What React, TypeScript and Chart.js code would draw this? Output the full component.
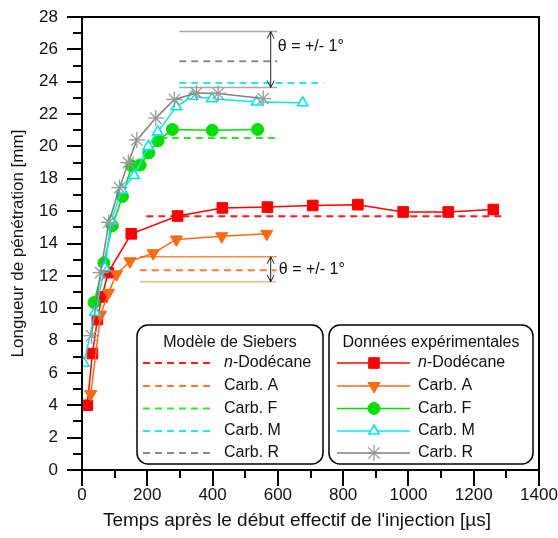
import React, { useEffect, useRef } from 'react';
import { Chart, registerables } from 'chart.js';
import { drawPoint } from 'chart.js/helpers';

Chart.register(...registerables);

const FONT = "'Liberation Sans', Arial, sans-serif";

const seriesNames = ['n-Dodécane', 'Carb. A', 'Carb. F', 'Carb. M', 'Carb. R'];
const seriesColors = ['#ff0000', '#ff6a10', '#00e000', '#00e8f0', '#808080'];
const modelColors = ['#ff1a1a', '#ff7a30', '#33e633', '#22eaf2', '#8c8c8c'];

// Experimental data (time µs, length mm)
const dodecaneT = [16, 32, 47, 61, 80, 151, 293, 430, 568, 707, 845, 984, 1122, 1260];
const dodecaneL = [4.0, 7.2, 9.3, 10.7, 12.2, 14.6, 15.7, 16.2, 16.25, 16.35, 16.4, 15.95, 15.95, 16.1];

const carbAT = [27, 57, 81, 106, 147, 218, 289, 428, 566];
const carbAL = [4.7, 9.6, 10.95, 12.1, 12.9, 13.4, 14.25, 14.45, 14.6];

const carbFT = [37, 67, 93, 124, 152, 178, 205, 233, 277, 399, 538];
const carbFL = [10.35, 12.8, 15.1, 16.9, 18.8, 18.85, 19.6, 20.35, 21.05, 21.0, 21.05];

const carbMT = [6, 40, 70, 89, 122, 160, 203, 232, 289, 338, 398, 535, 676];
const carbML = [6.6, 9.75, 12.5, 15.4, 17.3, 18.2, 20.0, 20.9, 22.45, 23.1, 22.95, 22.75, 22.7];

const carbRT = [29, 57, 82, 115, 142, 168, 226, 283, 351, 417, 555];
const carbRL = [8.3, 12.2, 15.3, 17.45, 19.0, 20.4, 21.75, 22.9, 23.3, 23.27, 22.96];

// Siebers model (steady length, start/end time)
const modelLength = [15.69, 12.35, 20.52, 23.92, 25.26];
const modelStart = [197, 177, 239, 298, 298];
const modelEnd = [1290, 596, 600, 741, 598];

// theta = +/- 1° bands
const bandUpper = [27.1, 13.18];
const bandLower = [23.64, 11.63];
const bandStart = [298, 177];
const bandEnd = [598, 596];
const bandArrowT = [578, 578];
const bandTextT = [600, 603];
const bandTextL = [26.15, 12.4];
const bandLabel = ['θ = +/- 1°', 'θ = +/- 1°'];
const bandUpperColors = ['#a8a8a8', '#ff8a40'];
const bandLowerColors = ['#a8a8a8', '#ffb588'];

const legendTitles = ['Modèle de Siebers', 'Données expérimentales'];
const xTitle = "Temps après le début effectif de l'injection [µs]";
const yTitle = 'Longueur de pénétration [mm]';

const expT = [dodecaneT, carbAT, carbFT, carbMT, carbRT];
const expL = [dodecaneL, carbAL, carbFL, carbML, carbRL];
const pointStyles = ['rect', 'triangle', 'circle', 'triangle', 'star'];
const pointRadii = [7.5, 7, 6, 6, 8];
const pointRotations = [0, 180, 0, 0, 0];
const pointFills = ['#ff0000', '#ff6a10', '#00e000', '#ffffff', '#999999'];
const pointBorders = ['#ff0000', '#ff6a10', '#00e000', '#00e8f0', '#999999'];
const pointBorderW = [1, 1, 1, 1.6, 1.3];
const drawOrder = [4, 3, 2, 1, 0];

function drawLabel(ctx: CanvasRenderingContext2D, text: string, x: number, y: number) {
  ctx.textAlign = 'left';
  ctx.textBaseline = 'middle';
  if (text.startsWith('n-')) {
    ctx.font = `italic 16px ${FONT}`;
    ctx.fillText('n', x, y);
    const w = ctx.measureText('n').width;
    ctx.font = `16px ${FONT}`;
    ctx.fillText(text.slice(1), x + w, y);
  } else {
    ctx.font = `16px ${FONT}`;
    ctx.fillText(text, x, y);
  }
}

const decorPlugin = {
  id: 'decor',
  beforeDraw(chart: any) {
    const ctx = chart.ctx;
    ctx.save();
    ctx.fillStyle = '#ffffff';
    ctx.fillRect(0, 0, chart.width, chart.height);
    ctx.restore();
  },
  afterDatasetsDraw(chart: any) {
    const ctx: CanvasRenderingContext2D = chart.ctx;
    const xs = chart.scales.x;
    const ys = chart.scales.y;
    ctx.save();
    for (let i = 0; i < bandUpper.length; i++) {
      const x = xs.getPixelForValue(bandArrowT[i]);
      const y1 = ys.getPixelForValue(bandUpper[i]);
      const y2 = ys.getPixelForValue(bandLower[i]);
      ctx.strokeStyle = '#222';
      ctx.lineWidth = 1;
      ctx.beginPath();
      ctx.moveTo(x, y1);
      ctx.lineTo(x, y2);
      ctx.moveTo(x - 3.5, y1 + 7);
      ctx.lineTo(x, y1);
      ctx.lineTo(x + 3.5, y1 + 7);
      ctx.moveTo(x - 3.5, y2 - 7);
      ctx.lineTo(x, y2);
      ctx.lineTo(x + 3.5, y2 - 7);
      ctx.stroke();
      ctx.fillStyle = '#111';
      ctx.font = `16px ${FONT}`;
      ctx.textAlign = 'left';
      ctx.textBaseline = 'middle';
      ctx.fillText(bandLabel[i], xs.getPixelForValue(bandTextT[i]), ys.getPixelForValue(bandTextL[i]));
    }
    ctx.restore();
  },
  afterDraw(chart: any) {
    const ctx: CanvasRenderingContext2D = chart.ctx;
    const xs = chart.scales.x;
    const ys = chart.scales.y;
    const { left, right, top, bottom } = chart.chartArea;
    ctx.save();
    ctx.strokeStyle = '#000';
    ctx.lineWidth = 2;
    ctx.beginPath();
    for (let v = 0; v <= 28; v++) {
      const y = Math.round(ys.getPixelForValue(v));
      const len = v % 2 === 0 ? 15 : 9;
      ctx.moveTo(left - len, y);
      ctx.lineTo(left, y);
    }
    for (let v = 0; v <= 1400; v += 100) {
      const x = Math.round(xs.getPixelForValue(v));
      const len = v % 200 === 0 ? 16 : 8;
      ctx.moveTo(x, bottom);
      ctx.lineTo(x, bottom + len);
    }
    ctx.stroke();
    ctx.strokeRect(left, top, right - left, bottom - top);

    // x-axis title
    ctx.fillStyle = '#111';
    ctx.font = `19px ${FONT}`;
    ctx.textAlign = 'center';
    ctx.textBaseline = 'middle';
    ctx.fillText(xTitle, 297, 521);

    // Legends
    const boxes = [
      { x: 137, w: 186, group: 'model' },
      { x: 329, w: 204, group: 'exp' },
    ];
    const boxTop = 325;
    const boxBottom = 464;
    const rowY = [363, 386, 408.5, 431, 453];
    boxes.forEach((b, bi) => {
      ctx.fillStyle = '#ffffff';
      ctx.strokeStyle = '#000';
      ctx.lineWidth = 1.5;
      ctx.beginPath();
      (ctx as any).roundRect(b.x, boxTop, b.w, boxBottom - boxTop, 11);
      ctx.fill();
      ctx.stroke();
      ctx.fillStyle = '#111';
      ctx.font = `16px ${FONT}`;
      ctx.textAlign = 'center';
      ctx.textBaseline = 'middle';
      ctx.fillText(legendTitles[bi], b.x + b.w / 2, 343);
      const dsets = chart.data.datasets.filter((d: any) => d.group === b.group);
      dsets.forEach((d: any, i: number) => {
        const y = rowY[i];
        if (b.group === 'model') {
          ctx.strokeStyle = d.borderColor;
          ctx.lineWidth = 2;
          ctx.setLineDash(d.borderDash);
          ctx.beginPath();
          ctx.moveTo(143, y);
          ctx.lineTo(214, y);
          ctx.stroke();
          ctx.setLineDash([]);
          ctx.fillStyle = '#111';
          drawLabel(ctx, d.label, 224, y);
        } else {
          ctx.strokeStyle = d.borderColor;
          ctx.lineWidth = 1.5;
          ctx.beginPath();
          ctx.moveTo(337, y);
          ctx.lineTo(410, y);
          ctx.stroke();
          ctx.fillStyle = d.pointBackgroundColor;
          ctx.strokeStyle = d.pointBorderColor;
          ctx.lineWidth = d.pointBorderWidth;
          drawPoint(ctx, {
            pointStyle: d.pointStyle,
            radius: d.pointRadius,
            rotation: d.pointRotation,
            borderWidth: d.pointBorderWidth,
          } as any, 374, y);
          ctx.fillStyle = '#111';
          drawLabel(ctx, d.label, 418, y);
        }
      });
    });
    ctx.restore();
  },
};

export default function App() {
  const canvasRef = useRef<HTMLCanvasElement | null>(null);

  useEffect(() => {
    if (!canvasRef.current) return;
    const datasets: any[] = [];
    // model dashed lines
    seriesNames.forEach((name, i) => {
      datasets.push({
        label: name,
        group: 'model',
        data: [
          { x: modelStart[i], y: modelLength[i] },
          { x: modelEnd[i], y: modelLength[i] },
        ],
        borderColor: modelColors[i],
        borderWidth: 2,
        borderDash: [7, 5],
        pointRadius: 0,
        order: 20,
      });
    });
    // bands
    bandUpper.forEach((_, i) => {
      datasets.push({
        label: 'band-up',
        group: 'band',
        data: [
          { x: bandStart[i], y: bandUpper[i] },
          { x: bandEnd[i], y: bandUpper[i] },
        ],
        borderColor: bandUpperColors[i],
        borderWidth: 1.5,
        pointRadius: 0,
        order: 21,
      });
      datasets.push({
        label: 'band-low',
        group: 'band',
        data: [
          { x: bandStart[i], y: bandLower[i] },
          { x: bandEnd[i], y: bandLower[i] },
        ],
        borderColor: bandLowerColors[i],
        borderWidth: 1.5,
        pointRadius: 0,
        order: 21,
      });
    });
    // experimental
    seriesNames.forEach((name, i) => {
      datasets.push({
        label: name,
        group: 'exp',
        data: expT[i].map((t, k) => ({ x: t, y: expL[i][k] })),
        borderColor: seriesColors[i],
        borderWidth: 1.5,
        pointStyle: pointStyles[i],
        pointRadius: pointRadii[i],
        pointRotation: pointRotations[i],
        pointBackgroundColor: pointFills[i],
        pointBorderColor: pointBorders[i],
        pointBorderWidth: pointBorderW[i],
        order: drawOrder[i],
      });
    });

    const chart = new Chart(canvasRef.current, {
      type: 'line',
      data: { datasets },
      options: {
        responsive: false,
        animation: false,
        layout: { padding: { left: 0, top: 17, right: 19, bottom: 0 } },
        plugins: {
          legend: { display: false },
          tooltip: { enabled: false },
        },
        scales: {
          x: {
            type: 'linear',
            min: 0,
            max: 1400,
            ticks: {
              stepSize: 200,
              padding: 15,
              maxRotation: 0,
              color: '#111',
              font: { family: FONT, size: 17 },
              callback: (v: any) => String(v),
            },
            grid: { display: false, drawTicks: false },
            border: { display: false },
            title: { display: false },
            afterFit: (s: any) => {
              s.height = 68;
              s.paddingLeft = 0;
              s.paddingRight = 0;
            },
          },
          y: {
            type: 'linear',
            min: 0,
            max: 28,
            ticks: {
              stepSize: 2,
              padding: 24,
              color: '#111',
              font: { family: FONT, size: 17 },
            },
            grid: { display: false, drawTicks: false },
            border: { display: false },
            title: {
              display: true,
              text: yTitle,
              color: '#111',
              font: { family: FONT, size: 17 },
              padding: { top: 8, bottom: 0 },
            },
            afterFit: (s: any) => {
              s.width = 82;
              s.paddingTop = 0;
              s.paddingBottom = 0;
            },
          },
        },
      } as any,
      plugins: [decorPlugin],
    });
    return () => chart.destroy();
  }, []);

  return (
    <div style={{ position: 'absolute', left: 0, top: 0, width: 558, height: 538 }}>
      <canvas ref={canvasRef} width={558} height={538} style={{ display: 'block' }} />
    </div>
  );
}
